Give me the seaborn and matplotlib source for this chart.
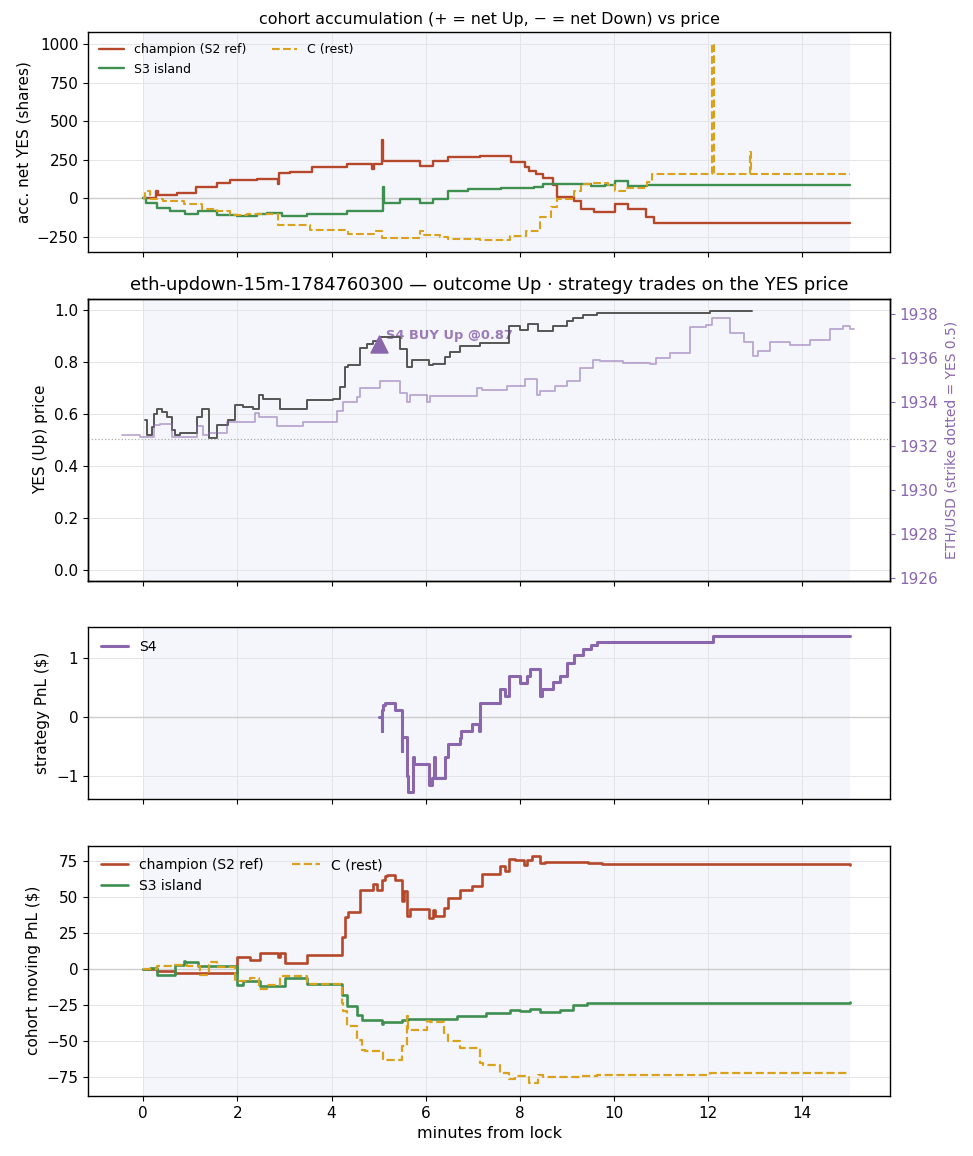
import numpy as np
import pandas as pd
import matplotlib
matplotlib.use("Agg")
import matplotlib.pyplot as plt
import seaborn as sns

# ---- data (minutes from lock) ----
# panel 1 : accumulated net YES shares
champ_acc_t = [0, 0.27, 0.31, 0.71, 1.13, 1.56, 1.85, 2.2, 2.41, 2.86, 2.89, 3.12, 3.58, 4.32,
               4.87, 4.91, 5.08, 5.1, 5.88, 6.16, 6.48, 7.15, 7.81, 8.1, 8.2, 8.35, 8.5, 8.7,
               8.78, 9.14, 9.3, 9.58, 10.03, 10.3, 10.68, 10.84, 15.0]
champ_acc_v = [0, 45, 20, 35, 75, 100, 120, 118, 125, 90, 165, 170, 203, 225,
               190, 225, 377, 245, 210, 240, 268, 275, 235, 200, 180, 160, 130, 85,
               8, -15, -70, -88, -40, -70, -120, -160, -160]
s3_acc_t = [0, 0.07, 0.29, 0.57, 0.88, 1.17, 1.56, 1.99, 2.41, 2.63, 2.94, 3.47, 4.32, 5.07,
            5.09, 5.11, 5.46, 5.88, 6.16, 6.48, 6.9, 7.6, 8.3, 8.5, 9.5, 9.8, 10.03, 10.3, 10.7, 15.0]
s3_acc_v = [0, -30, -60, -80, -105, -85, -110, -115, -100, -95, -118, -105, -85, -80,
            73, -30, -5, -33, -5, 48, 62, 68, 75, 95, 80, 88, 110, 80, 85, 85]
c_acc_t = [0, 0.04, 0.14, 0.43, 0.86, 1.25, 1.56, 1.85, 2.2, 2.87, 2.98, 3.54, 4.36, 4.92,
           5.07, 5.88, 5.95, 6.3, 6.48, 7.15, 7.79, 8.14, 8.42, 8.67, 8.78, 9.14, 9.3, 9.53,
           9.87, 10.03, 10.27, 10.7, 10.8, 12.09, 12.12, 12.88, 12.91, 15.0]
c_acc_v = [0, 45, -5, -20, -40, -70, -85, -110, -100, -170, -175, -208, -230, -215,
           -255, -210, -235, -250, -265, -270, -245, -210, -120, -55, -5, 45, 95, 100,
           85, 45, 70, 105, 155, 1000, 155, 300, 155, 155]

# panel 2 : YES (Up) price, ETH/USD and the strategy trade
yes_t = [0.04, 0.08, 0.18, 0.22, 0.29, 0.4, 0.5, 0.61, 0.68, 0.785, 1.14, 1.245, 1.39, 1.565,
         1.81, 1.95, 2.13, 2.34, 2.45, 2.55, 2.91, 3.47, 4.04, 4.18, 4.29, 4.36, 4.61, 4.75,
         4.89, 5.03, 5.46, 5.6, 5.7, 6.06, 6.16, 6.41, 6.52, 6.73, 7.15, 7.76, 8.0, 8.18,
         8.39, 8.71, 9.0, 9.13, 9.35, 9.63, 12.04, 12.92]
yes_p = [0.58, 0.52, 0.55, 0.60, 0.62, 0.61, 0.59, 0.54, 0.52, 0.53, 0.59, 0.62, 0.51, 0.56,
         0.58, 0.636, 0.627, 0.62, 0.674, 0.66, 0.62, 0.655, 0.66, 0.704, 0.78, 0.79, 0.854, 0.87,
         0.883, 0.896, 0.85, 0.78, 0.81, 0.79, 0.795, 0.82, 0.84, 0.862, 0.874, 0.94, 0.925, 0.947,
         0.92, 0.94, 0.958, 0.97, 0.98, 0.99, 0.999, 0.999]
eth_t = [-0.45, -0.07, 0.22, 0.36, 0.61, 1.14, 1.28, 1.39, 1.78, 2.38, 2.45, 2.84, 3.4, 4.11,
         4.25, 4.54, 4.61, 5.03, 5.46, 5.6, 5.67, 6.02, 6.09, 7.08, 7.19, 7.72, 8.11, 8.36,
         8.43, 8.75, 9.0, 9.28, 9.56, 9.7, 10.2, 10.76, 10.9, 11.19, 11.61, 11.96, 12.07,
         12.46, 12.75, 12.96, 13.06, 13.31, 13.74, 14.16, 14.59, 14.87, 15.0, 15.1]
eth_px = [1932.49, 1932.38, 1932.95, 1933.0, 1932.4, 1932.9, 1932.5, 1932.6, 1933.06, 1933.5,
          1933.3, 1932.9, 1933.1, 1933.6, 1933.97, 1934.2, 1934.65, 1934.95, 1934.4, 1934.0,
          1934.3, 1934.0, 1934.25, 1934.65, 1934.55, 1934.73, 1935.03, 1934.3, 1934.5, 1934.7,
          1934.95, 1935.56, 1935.9, 1935.85, 1935.78, 1935.7, 1936.0, 1936.2, 1937.4, 1937.5,
          1937.83, 1937.15, 1936.74, 1936.1, 1936.3, 1936.7, 1936.6, 1936.8, 1937.3, 1937.45,
          1937.3, 1937.3]
strike = 1932.3
buy_t = [5.0]
buy_p = [0.87]

# panel 3 : S4 strategy PnL
s4_t = [5.0, 5.07, 5.08, 5.1, 5.14, 5.35, 5.49, 5.5, 5.6, 5.62, 5.74, 5.76, 6.06, 6.13, 6.17,
        6.19, 6.41, 6.48, 6.73, 6.76, 6.98, 7.14, 7.16, 7.58, 7.69, 7.76, 8.0, 8.15, 8.22,
        8.43, 8.46, 8.71, 8.85, 9.0, 9.14, 9.35, 9.52, 9.64, 12.1, 15.0]
s4_pnl = [0, -0.24, 0.13, 0.2, 0.24, 0.13, -0.58, -0.34, -1.0, -1.26, -0.67, -0.79, -1.15, -1.03,
          -0.67, -1.03, -0.67, -0.46, -0.35, -0.23, -0.11, -0.23, 0.24, 0.47, 0.36, 0.69, 0.58,
          0.69, 0.81, 0.36, 0.47, 0.6, 0.69, 0.92, 1.05, 1.16, 1.22, 1.28, 1.38, 1.38]

# panel 4 : cohort moving PnL
champ_pnl_t = [0, 0.29, 0.68, 1.99, 2.27, 2.48, 2.87, 2.9, 3.01, 3.47, 4.22, 4.29, 4.36, 4.61,
               4.89, 4.96, 5.07, 5.14, 5.17, 5.35, 5.49, 5.53, 5.6, 5.67, 6.06, 6.16, 6.2,
               6.38, 6.48, 6.73, 6.98, 7.19, 7.58, 7.69, 7.76, 7.9, 8.08, 8.15, 8.25, 8.43,
               8.54, 9.45, 9.74, 15.0]
champ_pnl_v = [0, -1.5, -2.5, 8, 6.3, 11.3, 8, 11.3, 3.9, 9.7, 22.4, 35.9, 39.8, 54.4,
               59, 54.4, 61.8, 64.1, 64.8, 61.8, 46.8, 53.7, 36.8, 41.4, 35.2, 41, 36.8,
               42.2, 49.1, 54.4, 57.2, 65.9, 71.5, 67.6, 76.4, 75.2, 72.2, 75.7, 78.5, 73.4,
               74, 73.4, 72.7, 72.0]
s3_pnl_t = [0, 0.15, 0.29, 0.68, 0.86, 0.88, 1.17, 1.99, 2.13, 2.48, 3.01, 3.47, 4.22, 4.32,
            4.54, 4.64, 5.07, 5.1, 5.49, 5.63, 6.66, 7.29, 7.79, 8.0, 8.22, 8.43, 8.85, 9.13,
            9.42, 9.74, 15.0]
s3_pnl_v = [0, 0.8, -4.2, 2.8, 5.5, 4.7, 1.9, -10.9, -8.6, -12.1, -6.3, -10.2, -17.8, -25.9,
            -31.7, -35.6, -38, -37, -35.2, -34.5, -32.9, -30.6, -28.3, -29.5, -27.8, -30.1,
            -28.3, -24.9, -23.8, -23.4, -22.8]
c_pnl_t = [0, 0.29, 0.64, 0.93, 1.21, 1.39, 1.56, 1.95, 2.27, 2.45, 2.63, 2.91, 3.47, 4.22,
           4.25, 4.32, 4.54, 4.64, 4.71, 5.1, 5.49, 5.6, 5.63, 6.02, 6.09, 6.38, 6.48, 6.73,
           7.15, 7.22, 7.58, 7.76, 7.9, 8.2, 8.39, 8.5, 9.32, 9.63, 12.04, 15.0]
c_pnl_v = [0, 1.9, 2.8, 2.2, -4.2, 4.7, 1.2, -8.6, -6.3, -14, -10.9, -5.1, -10.2, -23.8,
           -29.5, -39.9, -49.1, -56.1, -57.2, -63, -53.7, -32.9, -42.1, -36, -37, -44.4,
           -50.2, -54.9, -65.3, -66.4, -71.8, -76.4, -74.5, -79.2, -73.4, -75.2, -74, -73.4,
           -71.8, -71.8]

# ---- style ----
c_champ = "#b5472a"
c_s3 = "#3f8f50"
c_rest = "#daa21c"
c_s4 = "#8a66ad"
c_yes = "#555555"
span_col = "#f5f6fb"
grid_kw = dict(color="#e3e3e8", lw=0.7)

sns.set_style("ticks")
plt.rcParams["font.family"] = ["DejaVu Sans"]
plt.rcParams.update({"text.color": "black", "axes.labelcolor": "black",
                     "xtick.color": "black", "ytick.color": "black",
                     "xtick.labelsize": 11, "ytick.labelsize": 11, "axes.labelsize": 11})

fig, axes = plt.subplots(4, 1, figsize=(9.73, 11.56), dpi=100, sharex=True,
                         gridspec_kw=dict(height_ratios=[220, 282, 172, 250]))
fig.subplots_adjust(left=0.0905, right=0.9147, top=0.9723, bottom=0.052, hspace=0.2)
ax1, ax2, ax3, ax4 = axes


def step(ax, t, v, color, label=None, ls="-", lw=1.8):
    sns.lineplot(x=t, y=v, ax=ax, color=color, label=label, linestyle=ls, lw=lw,
                 drawstyle="steps-post", estimator=None, sort=False, legend=False)


for ax in axes:
    ax.axvspan(0, 15, color=span_col, zorder=0, lw=0)
    ax.grid(True, **grid_kw)
    ax.set_axisbelow(True)

# panel 1
ax1.axhline(0, color="#cccccc", lw=1, zorder=1)
step(ax1, champ_acc_t, champ_acc_v, c_champ, "champion (S2 ref)", lw=1.7)
step(ax1, s3_acc_t, s3_acc_v, c_s3, "S3 island", lw=1.7)
step(ax1, c_acc_t, c_acc_v, c_rest, "C (rest)", ls="--", lw=1.5)
ax1.set_ylim(-350, 1078)
ax1.set_yticks([-250, 0, 250, 500, 750, 1000])
ax1.set_ylabel("acc. net YES (shares)")
ax1.set_title("cohort accumulation (+ = net Up, \u2212 = net Down) vs price", fontsize=11.4)
ax1.legend(loc="upper left", ncol=2, frameon=False, fontsize=9)

# panel 2
step(ax2, yes_t, yes_p, c_yes, lw=1.4)
sns.scatterplot(x=buy_t, y=buy_p, ax=ax2, marker="^", s=150, color=c_s4,
                edgecolor=c_s4, zorder=5, legend=False)
for t, p in zip(buy_t, buy_p):
    ax2.annotate("S4 BUY Up @%.2f" % p, xy=(t, p), xytext=(5, 6), textcoords="offset points",
                 color=c_s4, fontsize=9.4, fontweight="bold", va="center", alpha=0.85, zorder=1)
ax2.set_ylim(-0.04, 1.045)
ax2.set_yticks([0.0, 0.2, 0.4, 0.6, 0.8, 1.0])
ax2.set_ylabel("YES (Up) price")
ax2.set_title("eth-updown-15m-1784760300 \u2014 outcome Up \u00b7 strategy trades on the YES price",
              fontsize=12.9)

ax2b = ax2.twinx()
sns.lineplot(x=eth_t, y=eth_px, ax=ax2b, color=c_s4, alpha=0.55, lw=1.3,
             drawstyle="steps-post", estimator=None, sort=False, legend=False)
ax2b.axhline(strike, color="#aaaaaa", lw=0.9, ls=":")
ax2b.set_ylim(1925.85, 1938.7)
ax2b.set_yticks(np.arange(1926, 1939, 2))
ax2b.tick_params(axis="y", colors=c_s4, labelsize=11)
ax2b.set_ylabel("ETH/USD (strike dotted = YES 0.5)", color=c_s4, fontsize=10)

# panel 3
ax3.axhline(0, color="#cccccc", lw=1, zorder=1)
step(ax3, s4_t, s4_pnl, c_s4, "S4", lw=2.2)
ax3.set_ylim(-1.39, 1.525)
ax3.set_yticks([-1, 0, 1])
ax3.set_ylabel("strategy PnL ($)")
ax3.legend(loc="upper left", frameon=False, fontsize=10)

# panel 4
ax4.axhline(0, color="#cccccc", lw=1, zorder=1)
step(ax4, champ_pnl_t, champ_pnl_v, c_champ, "champion (S2 ref)", lw=1.9)
step(ax4, s3_pnl_t, s3_pnl_v, c_s3, "S3 island", lw=1.9)
step(ax4, c_pnl_t, c_pnl_v, c_rest, "C (rest)", ls="--", lw=1.6)
ax4.set_ylim(-88, 85.5)
ax4.set_yticks([-75, -50, -25, 0, 25, 50, 75])
ax4.set_ylabel("cohort moving PnL ($)")
ax4.set_xlabel("minutes from lock", fontsize=11.5)
ax4.legend(loc="upper left", ncol=2, frameon=False, fontsize=10)

ax4.set_xlim(-1.17, 15.86)
ax4.set_xticks([0, 2, 4, 6, 8, 10, 12, 14])

for ax in list(axes) + [ax2b]:
    for s in ax.spines.values():
        s.set_color("black")
        s.set_linewidth(1.0)

fig.savefig("out.png", dpi=100)
